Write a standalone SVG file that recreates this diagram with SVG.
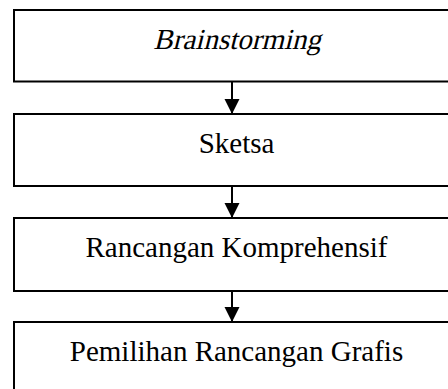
<svg xmlns="http://www.w3.org/2000/svg" width="448" height="389" viewBox="0 0 448 389">
<style>
.box{fill:#fff;stroke:#000;stroke-width:2}
.t{font-family:"Liberation Serif","Times New Roman",serif;font-size:29px;fill:#000;text-anchor:middle}
.conn line{stroke:#000;stroke-width:2}
</style>
<defs>
<marker id="ah" markerUnits="userSpaceOnUse" markerWidth="16" markerHeight="17" refX="15" refY="7.5" orient="auto">
<path d="M0,0 L15,7.5 L0,15 Z" fill="#000"/>
</marker>
</defs>
<rect x="0" y="0" width="448" height="389" fill="#fff"/>
<g id="n1"><rect class="box" x="14" y="10" width="440" height="71.5"/><text class="t" transform="translate(237,48.5) skewX(-14)" x="0" y="0">Brainstorming</text></g>
<g id="n2"><rect class="box" x="14" y="114" width="440" height="72"/><text class="t" x="236.5" y="153">Sketsa</text></g>
<g id="n3"><rect class="box" x="14" y="218" width="440" height="73"/><text class="t" x="236.5" y="257">Rancangan Komprehensif</text></g>
<g id="n4"><rect class="box" x="14" y="322" width="440" height="80"/><text class="t" x="236.5" y="361">Pemilihan Rancangan Grafis</text></g>
<g class="conn">
<line x1="232" y1="82" x2="232" y2="114" marker-end="url(#ah)"/>
<line x1="232" y1="186" x2="232" y2="218" marker-end="url(#ah)"/>
<line x1="232" y1="291" x2="232" y2="322" marker-end="url(#ah)"/>
</g>
</svg>
